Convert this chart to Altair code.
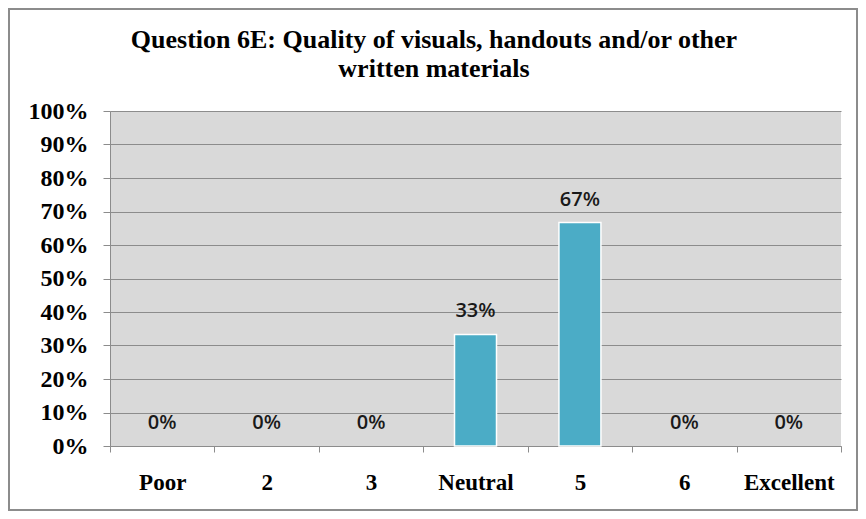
import altair as alt
import pandas as pd

categories = ["Poor", "2", "3", "Neutral", "5", "6", "Excellent"]
values = [0.0, 0.0, 0.0, 0.333, 0.667, 0.0, 0.0]
title_lines = ["Question 6E: Quality of visuals, handouts and/or other", "written materials"]
y_ticks = [0.0, 0.1, 0.2, 0.3, 0.4, 0.5, 0.6, 0.7, 0.8, 0.9, 1.0]

df = pd.DataFrame({"cat": categories, "val": values})

W, H = 731, 335

x = alt.X("cat:N", sort=categories, title=None,
          scale=alt.Scale(paddingInner=0, paddingOuter=0),
          axis=alt.Axis(labelAngle=0, tickBand="extent", tickSize=6, tickColor="#8c8c8c",
                        domainColor="#8c8c8c", labelFont="Liberation Serif", labelFontWeight="bold",
                        labelFontSize=23, labelColor="black", labelPadding=19, grid=False))
y = alt.Y("val:Q", title=None,
          scale=alt.Scale(domain=[0, 1], nice=False),
          axis=alt.Axis(values=y_ticks, format=".0%", tickSize=7,
                        labelOverlap=False,
                        tickColor="#8c8c8c", domainColor="#8c8c8c", gridColor="#8c8c8c",
                        labelFont="Liberation Serif", labelFontWeight="bold", labelFontSize=24,
                        labelColor="black", labelPadding=15))

bars = alt.Chart(df).mark_bar(width=42, color="#4BACC6", stroke="white").encode(
    x=x, y=y,
    strokeWidth=alt.condition(alt.datum.val > 0, alt.value(1.5), alt.value(0)))

labels = alt.Chart(df).mark_text(font="Open Sans", fontSize=20, fontWeight=600, color="#1a1a1a",
                                 baseline="middle", dy=-23).encode(
    x=x, y=y, text=alt.Text("val:Q", format=".0%"))

title = alt.Chart(alt.Data(values=[{}])).mark_text(
    text=title_lines, font="Liberation Serif", fontWeight="bold", fontSize=26,
    lineHeight=29, baseline="alphabetic", align="center", color="black"
).encode(x=alt.value(324), y=alt.value(-63))

frame = alt.Chart(alt.Data(values=[{}])).mark_rect(fill=None, stroke="#8c8c8c", strokeWidth=2).encode(
    x=alt.value(-101), x2=alt.value(747), y=alt.value(-102), y2=alt.value(399))

chart = alt.layer(bars, labels, title, frame).properties(
    width=W, height=H,
    autosize=alt.AutoSizeParams(type="none"),
    padding={"left": 102, "top": 103, "right": 17, "bottom": 65},
    background="white",
).configure_view(fill="#D9D9D9", stroke=None)

chart.save("out.html", embed_options={"renderer": "svg", "actions": False})
